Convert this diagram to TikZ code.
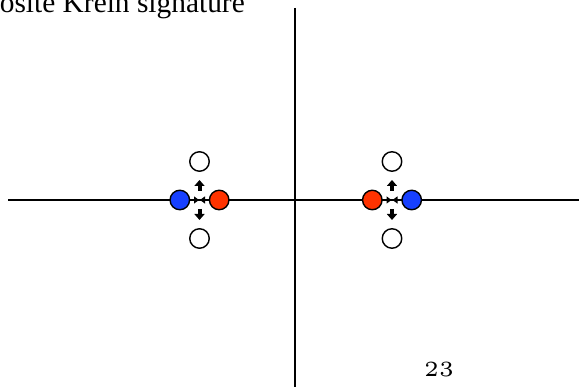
\documentclass[tikz,border=0pt]{standalone}
\usepackage{fontspec}
\newfontfamily\timesfont{Liberation Serif}
\usepackage{xcolor}
\usetikzlibrary{arrows.meta}
\definecolor{kblue}{RGB}{23, 64, 255}
\definecolor{kred}{RGB}{255, 51, 0}

\tikzset{
  eig/.style={circle, draw=black, line width=1.4pt, minimum size=19.5pt, inner sep=0pt},
  opn/.style={eig, fill=white},
  mv/.style={-{Triangle[length=6pt,width=10pt]}, line width=4pt},
  hmv/.style={-{Triangle[length=5pt,width=7pt]}, line width=1.6pt}
}

\begin{document}
\begin{tikzpicture}[x=1pt,y=1pt]
  \useasboundingbox (0,0) rectangle (579,387);
  \clip (0,0) rectangle (579,387);

  \node[anchor=base east, inner sep=0pt] (title) at (245,374)
    {\timesfont\fontsize{29.4}{35}\selectfont Opposite Krein signature};
  \node[anchor=base, inner sep=0pt, scale=4.34, transform shape] (page) at (439,10)
    {\fontsize{5}{6}\selectfont 23};

  % axes
  \coordinate (xl) at (8,187);
  \coordinate (xr) at (579,187);
  \coordinate (yt) at (295,379);
  \coordinate (yb) at (295,0);
  \draw[line width=1.4pt] (xl) -- (xr);
  \draw[line width=1.4pt] (yt) -- (yb);

  % the two colliding pairs
  \foreach \n/\cx/\cl/\cr in {l/199.5/kblue/kred, r/392/kred/kblue}{
    \begin{scope}[xshift=\cx pt, yshift=187pt]
      \coordinate (c\n) at (0,0);
      \node[opn] (u\n) at (0,38.5) {};
      \node[opn] (d\n) at (0,-38.5) {};
      \draw[mv, shorten <=9pt, shorten >=18.5pt] (c\n) -- (0,38.5);
      \draw[mv, shorten <=9pt, shorten >=18.5pt] (c\n) -- (0,-38.5);
      \node[eig, fill=\cl] (a\n) at (-19.7,0) {};
      \node[eig, fill=\cr] (b\n) at (19.7,0) {};
      \draw[hmv, shorten >=0.5pt] (a\n) -- (c\n);
      \draw[hmv, shorten >=0.5pt] (b\n) -- (c\n);
    \end{scope}
  }

\end{tikzpicture}
\end{document}
